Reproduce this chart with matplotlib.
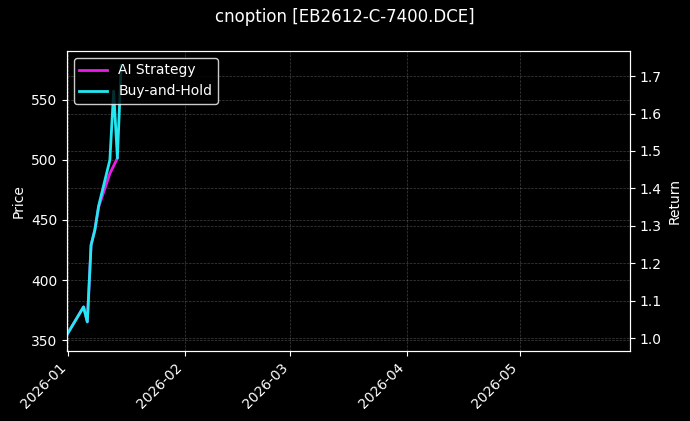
import pandas as pd
import matplotlib.pyplot as plt
import matplotlib.dates as mdates

# values
dates = ['2025-12-31', '2026-01-05', '2026-01-06', '2026-01-07', '2026-01-08',
         '2026-01-09', '2026-01-12', '2026-01-13', '2026-01-14', '2026-01-15']
buy_and_hold = [1.000, 1.084, 1.044, 1.249, 1.289, 1.353, 1.476, 1.660, 1.481, 1.728]

ai_dates = ['2025-12-31', '2026-01-05', '2026-01-06', '2026-01-07', '2026-01-08',
            '2026-01-09', '2026-01-12', '2026-01-14']
ai_strategy = [1.000, 1.084, 1.044, 1.249, 1.289, 1.350, 1.440, 1.481]

title = 'cnoption [EB2612-C-7400.DCE]'

plt.style.use('dark_background')
fig = plt.figure(figsize=(6.9, 4.21), dpi=100)
ax1 = fig.add_axes([0.097, 0.166, 0.816, 0.713])
ax2 = ax1.twinx()

ax2.plot(pd.to_datetime(ai_dates), ai_strategy, color='#e81ee8', linewidth=2,
         label='AI Strategy')
ax2.plot(pd.to_datetime(dates), buy_and_hold, color='#22e8f2', linewidth=2,
         label='Buy-and-Hold')

ax1.set_xlim(pd.Timestamp('2025-12-31 14:00'), pd.Timestamp('2026-05-30 06:00'))
ax1.set_ylim(340.8, 590.8)
ax2.set_ylim(0.966, 1.767)

ax1.xaxis.set_major_locator(mdates.MonthLocator())
ax1.xaxis.set_major_formatter(mdates.DateFormatter('%Y-%m'))
plt.setp(ax1.get_xticklabels(), rotation=45, ha='right')

ax1.set_ylabel('Price')
ax2.set_ylabel('Return')

ax1.grid(True, linestyle='--', linewidth=0.5, alpha=0.25)
ax2.grid(True, linestyle='--', linewidth=0.5, alpha=0.25)

ax2.legend(loc='upper left', facecolor='black', edgecolor='white', framealpha=0.8)
fig.suptitle(title, fontsize=12)

fig.savefig('out.png', dpi=100, facecolor='black')
